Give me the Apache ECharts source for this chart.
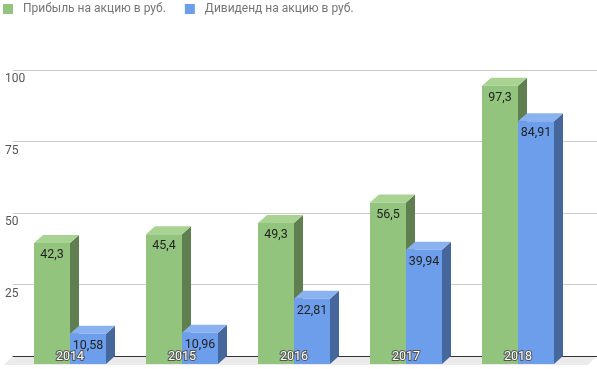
<!DOCTYPE html>
<html><head><meta charset="utf-8">
<script src="https://cdn.jsdelivr.net/npm/echarts@6/dist/echarts.min.js"></script>
<style>html,body{margin:0;padding:0;background:#fff}#c{width:597px;height:369px}</style>
</head><body><div id="c"></div>
<script>
var categories = ['2014', '2015', '2016', '2017', '2018'];
var profit = [42.3, 45.4, 49.3, 56.5, 97.3];
var dividend = [10.58, 10.96, 22.81, 39.94, 84.91];
var seriesNames = ['Прибыль на акцию в руб.', 'Дивиденд на акцию в руб.'];
var yTicks = [0, 25, 50, 75, 100];

var DX = 9, DY = -8, BW = 36;
var palette = [
  {front: '#93c47d', side: '#5f7f50', top: '#a9d393'},
  {front: '#6d9eeb', side: '#45679c', top: '#8ab2f0'}
];
function fmt(v){ return String(v).replace('.', ','); }
function makeRender(idx){
  return function(params, api){
    var cat = api.value(0), val = api.value(1);
    var pTop = api.coord([cat, val]);
    var pBot = api.coord([cat, 0]);
    var cx = pTop[0];
    var x0 = idx === 0 ? cx - BW : cx;
    var x1 = x0 + BW;
    var yT = pTop[1], yB = pBot[1];
    var c = palette[idx];
    return {
      type: 'group',
      children: [
        {type: 'polygon', shape: {points: [[x1, yT], [x1 + DX, yT + DY], [x1 + DX, yB + DY], [x1, yB]]}, style: {fill: c.side}},
        {type: 'polygon', shape: {points: [[x0, yT], [x0 + DX, yT + DY], [x1 + DX, yT + DY], [x1, yT]]}, style: {fill: c.top}},
        {type: 'rect', shape: {x: x0, y: yT, width: BW, height: yB - yT}, style: {fill: c.front}},
        {type: 'text', x: (x0 + x1) / 2, y: yT + 12, style: {text: fmt(val), fill: '#222', font: '12.5px Roboto', align: 'center', verticalAlign: 'middle'}}
      ]
    };
  };
}
var chart = echarts.init(document.getElementById('c'));
chart.setOption({
  animation: false,
  textStyle: {fontFamily: 'Roboto'},
  legend: {
    left: 3, top: 3, padding: 0, itemWidth: 10, itemHeight: 10, itemGap: 19, icon: 'rect',
    textStyle: {color: '#757575', fontSize: 12, padding: [0, 0, 0, 5]},
    data: [{name: seriesNames[0], itemStyle: {color: palette[0].front}}, {name: seriesNames[1], itemStyle: {color: palette[1].front}}]
  },
  graphic: [{
    type: 'polygon', z: -1,
    shape: {points: [[13, 356], [597, 356], [588, 365], [4, 365]]},
    style: {fill: '#ebebeb'}
  }],
  grid: [
    {left: 14, right: 23, top: 78, bottom: 5},
    {left: 13, right: 0, top: 70, bottom: 13}
  ],
  xAxis: [
    {type: 'category', gridIndex: 0, data: categories, z: 10,
     axisLine: {show: false}, axisTick: {show: false}, splitLine: {show: false},
     axisLabel: {inside: true, margin: 1, color: '#fff', fontSize: 12.5, fontFamily: 'Roboto', textBorderColor: '#555', textBorderWidth: 2}},
    {type: 'value', gridIndex: 1, min: 0, max: 1, z: 1,
     axisLine: {show: true, lineStyle: {color: '#333', width: 1}}, axisTick: {show: false}, axisLabel: {show: false}, splitLine: {show: false}}
  ],
  yAxis: [
    {type: 'value', gridIndex: 0, min: 0, max: 100, show: false, splitLine: {show: false}},
    {type: 'value', gridIndex: 1, min: yTicks[0], max: yTicks[yTicks.length - 1], interval: 25,
     axisLine: {show: false}, axisTick: {show: false},
     splitLine: {lineStyle: {color: '#cccccc', width: 1}},
     axisLabel: {align: 'left', margin: 8, verticalAlign: 'top', padding: [3, 0, 0, 0], color: '#555', fontSize: 12,
       formatter: function(v){ return v === 0 ? '' : String(v); }}}
  ],
  series: [
    {name: seriesNames[0], type: 'custom', xAxisIndex: 0, yAxisIndex: 0, z: 3, itemStyle: {color: palette[0].front},
     renderItem: makeRender(0), data: profit.map(function(v, i){ return [i, v]; })},
    {name: seriesNames[1], type: 'custom', xAxisIndex: 0, yAxisIndex: 0, z: 4, itemStyle: {color: palette[1].front},
     renderItem: makeRender(1), data: dividend.map(function(v, i){ return [i, v]; })}
  ]
});
</script></body></html>
